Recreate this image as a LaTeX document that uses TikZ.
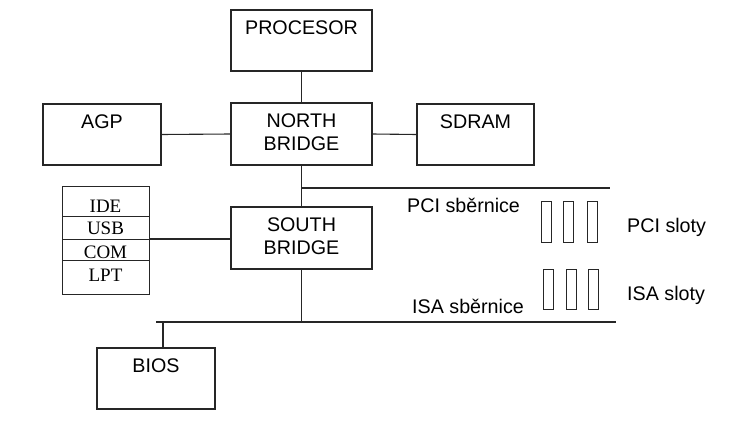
\documentclass[tikz,border=0pt]{standalone}
\usepackage{fontspec}
\setmainfont{Liberation Sans}
\newfontfamily\timesfont{Liberation Serif}
\usepackage{tikz}
\usetikzlibrary{positioning}
\definecolor{lineColor}{HTML}{262626}
\tikzstyle{box}=[rectangle, draw=lineColor, line width=1.1pt, inner sep=0pt, outer sep=0pt, minimum width=141pt, minimum height=62pt]
\tikzstyle{boxSmall}=[box, minimum width=118pt, minimum height=61pt]
\tikzstyle{slot}=[rectangle, draw=lineColor, line width=1pt, inner sep=0pt, minimum width=10pt, minimum height=41pt]
\tikzset{
	boxtext/.style={
		anchor=north,
		yshift=-11pt,
		inner sep=0pt,
		align=center,
		font=\fontsize{19.7}{23}\selectfont
	},
	port/.style={
		rectangle,
		draw=lineColor,
		line width=1pt,
		inner sep=0pt,
		outer sep=0pt,
		minimum width=87pt,
		text depth=0pt,
		font=\timesfont\fontsize{19}{22}\selectfont
	},
	bus/.style={
		draw=lineColor,
		line width=1.1pt
	},
	busname/.style={
		anchor=base west,
		inner sep=0pt,
		font=\fontsize{19.7}{23}\selectfont
	}
}

\begin{document}
\begin{tikzpicture}[x=1pt,y=-1pt]
	\useasboundingbox (0,0) rectangle (738,428);
	
	\node(Procesor)[box, minimum height=61pt, label={[boxtext]north:PROCESOR}] at (301.5,40.5) {};
	\node(NorthBridge)[box, label={[boxtext]north:{NORTH\\BRIDGE}}] at (301.5,134) {};
	\node(AGP)[boxSmall, label={[boxtext]north:AGP}] at (102,134.5) {};
	\node(SDRAM)[boxSmall, minimum width=117pt, label={[boxtext]north:SDRAM}] at (475.5,134.5) {};
	\node(SouthBridge)[box, label={[boxtext]north:{SOUTH\\BRIDGE}}] at (301.5,238) {};
	\node(BIOS)[boxSmall, label={[boxtext]north:BIOS}] at (156,378.5) {};
	
	% porty jizniho mustku
	\node(IDE)[port, anchor=north west, minimum height=30pt, text height=22pt] at (62,186) {IDE};
	\node(USB)[port, below=0pt of IDE, minimum height=23pt, text height=13pt] {USB};
	\node(COM)[port, below=0pt of USB, minimum height=21pt, text height=17pt] {COM};
	\node(LPT)[port, below=0pt of COM, minimum height=34pt, text height=12pt, text depth=4pt] {LPT};
	
	\coordinate(PCIend) at (610,188);
	\coordinate(ISAstart) at (156,322);
	\coordinate(ISAend) at (616,322);
	
	\draw [bus] (Procesor.south) -- (NorthBridge.north);
	\draw [bus] (AGP.east) -- (NorthBridge.west);
	\draw [bus] (NorthBridge.east) -- (SDRAM.west);
	\draw [bus] (NorthBridge.south) -- (SouthBridge.north);
	\draw [bus] (NorthBridge.south |- PCIend) -- (PCIend);
	\draw [bus] (USB.south east) -- (USB.south east -| SouthBridge.west);
	\draw [bus] (SouthBridge.south) -- (SouthBridge.south |- ISAend);
	\draw [bus] (ISAstart) -- (ISAend);
	\draw [bus] ([xshift=7pt]BIOS.north) -- ([xshift=7pt]BIOS.north |- ISAstart);
	
	% sloty
	\foreach \x [count=\i] in {546,568.5,592}
		\node(PCIslot\i)[slot] at (\x,221.5) {};
	\foreach \x [count=\i] in {548.5,571,593.5}
		\node(ISAslot\i)[slot, minimum height=40pt] at (\x,289) {};
	
	\node(PCIbus)[busname] at (407,212) {PCI sběrnice};
	\node(PCIsloty)[busname] at (627,232) {PCI sloty};
	\node(ISAsloty)[busname] at (627,300) {ISA sloty};
	\node(ISAbus)[busname] at (412,313) {ISA sběrnice};
\end{tikzpicture}
\end{document}
